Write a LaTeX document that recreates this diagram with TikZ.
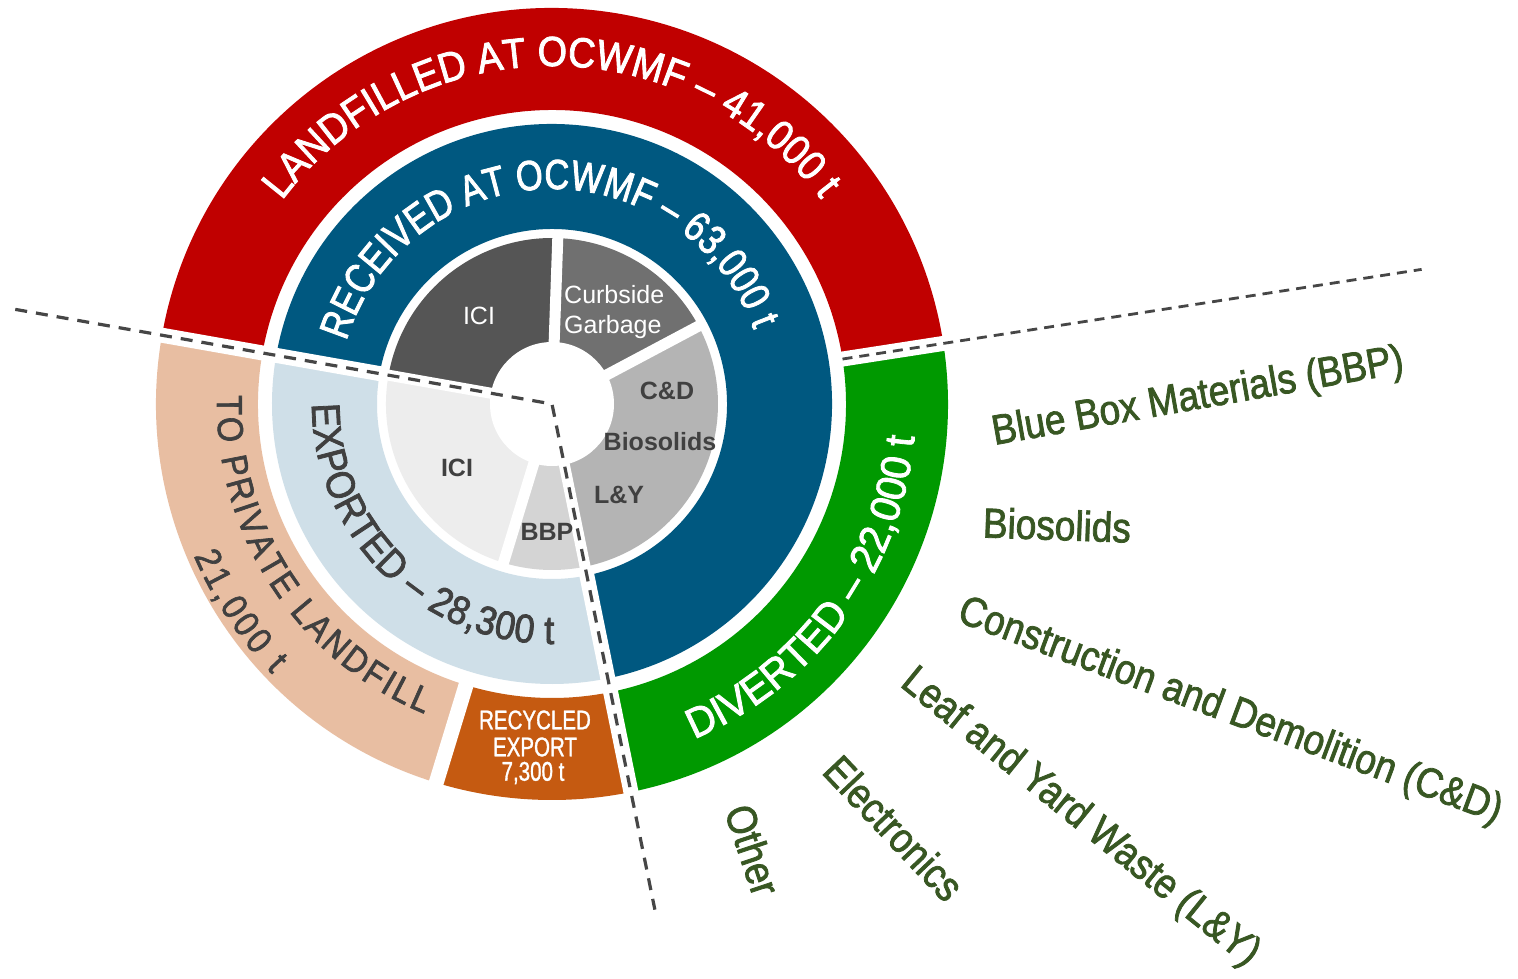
\documentclass[tikz,border=0pt]{standalone}
\usepackage{fontspec}
\setmainfont{Liberation Sans}
\newfontfamily\arcA[FakeStretch=0.9,FakeBold=2]{Liberation Sans}
\newfontfamily\arcB[FakeStretch=0.82,FakeBold=2]{Liberation Sans}
\newfontfamily\arcC[FakeStretch=0.95,FakeBold=2]{Liberation Sans}
\newfontfamily\arcD[FakeStretch=0.9,FakeBold=1.8]{Liberation Sans}
\newfontfamily\narrowf[FakeStretch=0.76,FakeBold=1.2]{Liberation Sans}
\newfontfamily\greenf[FakeStretch=0.88,FakeBold=1.8]{Liberation Sans}
\usetikzlibrary{decorations.text}
\definecolor{cRed}{RGB}{192,0,0}
\definecolor{cBlue}{RGB}{0,88,128}
\definecolor{cGreen}{RGB}{0,153,0}
\definecolor{cPeach}{RGB}{232,190,162}
\definecolor{cLBlue}{RGB}{207,223,232}
\definecolor{cOrange}{RGB}{197,90,17}
\definecolor{cGa}{RGB}{85,85,85}
\definecolor{cGb}{RGB}{112,112,112}
\definecolor{cGc}{RGB}{180,180,180}
\definecolor{cGd}{RGB}{212,212,212}
\definecolor{cGe}{RGB}{237,237,237}
\definecolor{cTxt}{RGB}{64,64,64}
\definecolor{cDGreen}{RGB}{56,87,35}
\definecolor{cDash}{RGB}{70,70,70}
\newcommand{\ringsec}[5]{\fill[#1] (#2:#4) arc[start angle=#2, end angle=#3, radius=#4] -- (#3:#5) arc[start angle=#3, end angle=#2, radius=#5] -- cycle;}
\tikzset{
  gapout/.style={white, line width=15},
  gapin/.style={white, line width=11},
  dashline/.style={cDash, line width=3.2, dash pattern=on 12pt off 9pt},
  dashthin/.style={cDash, line width=2.8, dash pattern=on 10pt off 7pt},
  seglabel/.style={font=\fontsize{25}{30}\selectfont, inner sep=0pt},
  graylabel/.style={font=\fontsize{25}{30}\selectfont\bfseries, text=cTxt, inner sep=0pt},
  greenlabel/.style={font=\greenf\fontsize{42}{44}\selectfont, text=cDGreen, inner sep=0pt},
  reclabel/.style={font=\narrowf\fontsize{27}{27}\selectfont, text=white, inner sep=0pt}
}
\begin{document}
\begin{tikzpicture}[x=1pt,y=1pt]
\useasboundingbox (-552,-574) rectangle (966,404);
\fill[white] (-552,-574) rectangle (966,404);
% outer ring
\ringsec{cRed}{8.8}{170}{294}{396}
\ringsec{cGreen}{-78.5}{8.8}{294}{396}
\ringsec{cOrange}{-107}{-78.5}{294}{396}
\ringsec{cPeach}{170}{253}{294}{396}
% middle ring
\ringsec{cBlue}{-78.5}{170}{175}{280}
\ringsec{cLBlue}{170}{281.5}{175}{280}
% inner ring
\ringsec{cGa}{88}{170}{40}{166}
\ringsec{cGb}{28}{88}{40}{166}
\ringsec{cGc}{-78.5}{28}{40}{166}
\ringsec{cGd}{-107}{-78.5}{40}{166}
\ringsec{cGe}{170}{253}{40}{166}
% gaps
\draw[gapout] (170:172) -- (170:400);
\draw[gapout] (-78.5:172) -- (-78.5:400);
\draw[gapout] (-107:285) -- (-107:400);
\draw[gapout] (8.8:285) -- (8.8:400);
\foreach \a in {170,88,28,-78.5,-107} \draw[gapin] (\a:0) -- (\a:170);
\fill[white] (0,0) circle[radius=62];
% dashed lines
\coordinate (ctr) at (0,0);
\coordinate (dl1) at (170:545);
\coordinate (dl2) at (-78.5:516);
\coordinate (dr1) at (8.8:294);
\coordinate (dr2) at (8.8:880);
\draw[dashline] (dl1) -- (ctr) -- (dl2);
\draw[dashthin] (dr1) -- (dr2);
% curved texts
\path[decorate, decoration={text along path, text align=fit to path,
  text={|\arcA\fontsize{42}{42}\selectfont\color{white}|LANDFILLED AT OCWMF – 41,000 t}}]
  (143:338) arc[start angle=143, end angle=38, radius=338];
\path[decorate, decoration={text along path, text align=fit to path,
  text={|\arcB\fontsize{42}{42}\selectfont\color{white}|RECEIVED AT OCWMF – 63,000 t}}]
  (163:215) arc[start angle=163, end angle=20.5, radius=215];
\path[decorate, decoration={text along path, text align=fit to path,
  text={|\arcC\fontsize{42}{42}\selectfont\color{white}|DIVERTED – 22,000 t}}]
  (-67:364) arc[start angle=-67, end angle=-5.2, radius=364];
\path[decorate, decoration={text along path, text align=fit to path,
  text={|\arcA\fontsize{40}{40}\selectfont\color{cTxt}|EXPORTED – 28,300 t}}]
  (180:240) arc[start angle=180, end angle=270.5, radius=240];
\path[decorate, decoration={text along path, text align=fit to path,
  text={|\arcD\fontsize{36}{36}\selectfont\color{cTxt}|TO PRIVATE LANDFILL}}]
  (178.5:335) arc[start angle=178.5, end angle=247.6, radius=335];
\path[decorate, decoration={text along path, text align=fit to path,
  text={|\arcD\fontsize{36}{36}\selectfont\color{cTxt}|21,000 t}}]
  (203:389) arc[start angle=203, end angle=224, radius=389];
% inner labels
\node[seglabel, text=white] (iciA) at (-73,88) {ICI};
\node[seglabel, text=white, align=left, anchor=west] (curb) at (12,92) {Curbside\\Garbage};
\node[graylabel] (cd) at (115,13) {C\&D};
\node[graylabel] (bio) at (108,-38) {Biosolids};
\node[graylabel] (ly) at (67,-91) {L\&Y};
\node[graylabel] (bbp) at (-5,-128) {BBP};
\node[graylabel] (iciB) at (-95,-64) {ICI};
\node[reclabel] (rec1) at (-17,-316) {RECYCLED};
\node[reclabel] (rec2) at (-17,-343) {EXPORT};
\node[reclabel] (rec3) at (-19,-369) {7,300 t};
% green labels
\node[greenlabel, rotate=10] (gbbp) at (646,6) {Blue Box Materials (BBP)};
\node[greenlabel, rotate=-2] (gbio) at (505,-121) {Biosolids};
\node[greenlabel, rotate=-20.5] (gcd) at (678,-308) {Construction and Demolition (C\&D)};
\node[greenlabel, rotate=-39] (gly) at (528,-414) {Leaf and Yard Waste (L\&Y)};
\node[greenlabel, rotate=-46.5] (gel) at (342,-424) {Electronics};
\node[greenlabel, rotate=-71.5] (got) at (201,-446) {Other};
\end{tikzpicture}
\end{document}
